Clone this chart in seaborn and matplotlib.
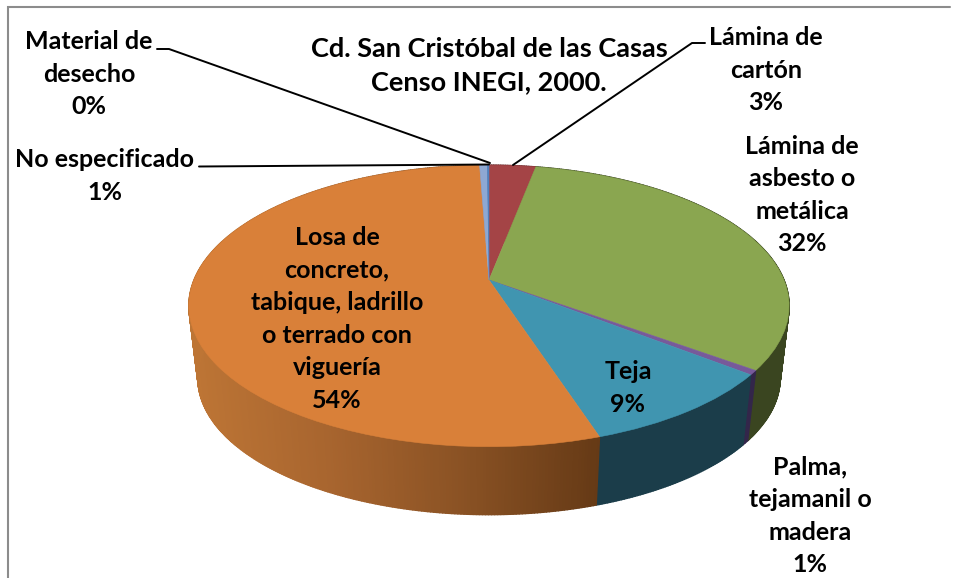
import numpy as np
import matplotlib
matplotlib.use('Agg')
import matplotlib.pyplot as plt
import matplotlib.transforms as mtransforms
from matplotlib.colors import LinearSegmentedColormap, to_rgba
from matplotlib.collections import PolyCollection
import seaborn as sns

# Clockwise from 12 o'clock
categorias = ['Lámina de\ncartón', 'Lámina de\nasbesto o\nmetálica', 'Palma,\ntejamanil o\nmadera', 'Teja',
              'Losa de\nconcreto,\ntabique, ladrillo\no terrado con\nviguería', 'No especificado', 'Material de\ndesecho']
valores = [3.0, 32.1, 0.5, 9.4, 54.4, 0.5, 0.1]
rotulos = ['3%', '32%', '1%', '9%', '54%', '1%', '0%']
titulo = 'Cd. San Cristóbal de las Casas\nCenso INEGI, 2000.'

colores = ['#a44446', '#8aa650', '#775a9a', '#4095b0', '#d98039', '#8ea8d3', '#4f81bd']
colores_pared = ['#6b2c2d', '#3a4520', '#33264a', '#1b3d4a', None, '#5c6d8a', '#33547b']

# Label centres in pixels
pos_rotulos = [(766, 70), (802, 195), (810, 516), (628, 388), (337, 319), (105, 176), (89, 74)]

CX, CY = 489, 280
RX, RY, K = 295, 136, 0.184
ESCALA_BASE, ALTO = 0.97, 73


class Perspectiva(mtransforms.Transform):
    # unit circle -> tilted disc in figure pixels
    input_dims = 2
    output_dims = 2
    is_separable = False

    def transform_non_affine(self, values):
        values = np.asarray(values, dtype=float)
        w = 1 + K * values[:, 1]
        return np.column_stack([CX + RX * values[:, 0] / w, CY - RY * values[:, 1] / w])


def borde(grados, escala=1.0, dy=0.0):
    t = np.radians(grados)
    p = Perspectiva().transform_non_affine(np.column_stack([np.sin(t), np.cos(t)]))
    return np.column_stack([CX + (p[:, 0] - CX) * escala, CY + (p[:, 1] - CY) * escala + dy])


sns.set_theme(style='white')
plt.rcParams['font.family'] = ['Lato', 'DejaVu Sans']

fig = plt.figure(figsize=(9.56, 5.78), dpi=100)
ax = fig.add_axes([0, 0, 1, 1])

paleta = sns.color_palette(colores)
wedges, _ = ax.pie(valores, colors=paleta, startangle=90, counterclock=False,
                   wedgeprops=dict(linewidth=0.4, zorder=3))
ax.set_aspect('auto')
ax.set_xlim(0, 956)
ax.set_ylim(578, 0)
ax.axis('off')
for w, c in zip(wedges, paleta):
    w.set_edgecolor(c)
    w.set_transform(Perspectiva() + ax.transData)

# Side wall, one thin quad at a time so the orange part can shade to the right
cmap_losa = LinearSegmentedColormap.from_list(
    'losa', ['#bd7535', '#a8652f', '#8a5224', '#663a16'])
limites = np.concatenate([[0], np.cumsum(valores)]) * 3.6
quads, caras = [], []
for i in range(len(valores)):
    n = max(2, int((limites[i + 1] - limites[i]) * 2))
    ang = np.linspace(limites[i], limites[i + 1], n)
    arriba = borde(ang)
    abajo = borde(ang, ESCALA_BASE, ALTO)
    for j in range(n - 1):
        quads.append([arriba[j], arriba[j + 1], abajo[j + 1], abajo[j]])
        if colores_pared[i] is None:
            caras.append(cmap_losa(np.clip((arriba[j, 0] - 190) / 410, 0, 1)))
        else:
            caras.append(to_rgba(colores_pared[i]))
ax.add_collection(PolyCollection(quads, facecolors=caras, edgecolors=caras, linewidths=1.0, zorder=2))

# Frame, only left and top are visible
ax.plot([8.5, 8.5, 950], [578, 6.5, 6.5], color='#8c8c8c', lw=1.5, zorder=1, solid_joinstyle='miter')

# Leader lines
linea = dict(color='black', lw=1.4, zorder=4)
ax.plot([157, 169, 490], [49, 49, 163], **linea)
ax.plot([199, 489], [166.5, 164.5], **linea)
ax.plot([705, 692, 513], [43, 43, 165], **linea)

estilo = dict(ha='center', va='center', fontweight='bold', fontsize=18, color='black', linespacing=1.5, zorder=5)
for cat, rot, (x, y) in zip(categorias, rotulos, pos_rotulos):
    ax.text(x, y, cat + '\n' + rot, **estilo)
ax.text(489, 65.5, titulo, **{**estilo, 'fontsize': 19.5, 'linespacing': 1.46})

fig.savefig('out.png', dpi=100, facecolor='white')
